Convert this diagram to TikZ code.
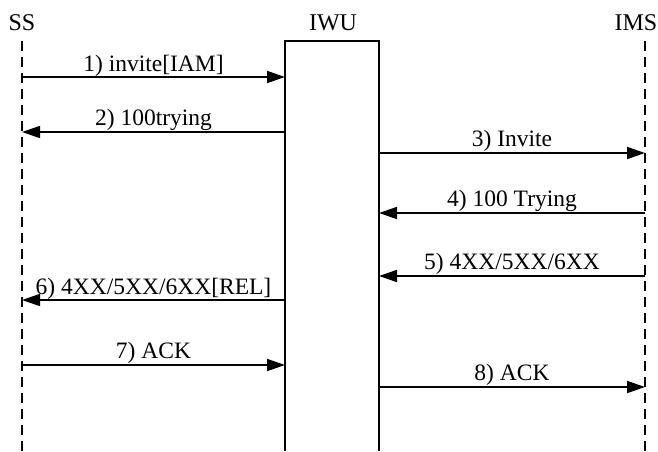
\documentclass[tikz,border=0pt]{standalone}
\usepackage{fontspec}
\setmainfont{Liberation Serif}
\usetikzlibrary{arrows.meta}
\begin{document}
\begin{tikzpicture}[x=1pt,y=-1pt,
  lifeline/.style={line width=1.7pt,dash pattern=on 10pt off 6pt},
  boxline/.style={line width=1.7pt},
  msg/.style={line width=1.7pt,-{Triangle[length=18pt,width=12pt]}},
  head/.style={font=\fontsize{24}{28}\selectfont,inner sep=0pt},
  msglabel/.style={font=\fontsize{23.5}{28}\selectfont,inner sep=0pt,anchor=base}]
\useasboundingbox (0,0) rectangle (658,451);
% participant headings
\node[head] (ssH)  at (22,23)  {SS};
\node[head] (iwuH) at (333,23) {IWU};
\node[head] (imsH) at (636,23) {IMS};
% lifelines and the IWU box (open at the bottom)
\coordinate (ssTop) at (22,41);   \coordinate (ssBot) at (22,451);
\coordinate (imsTop) at (645,41); \coordinate (imsBot) at (645,451);
\coordinate (iwuBL) at (285,451); \coordinate (iwuTL) at (285,41);
\coordinate (iwuTR) at (379,41);  \coordinate (iwuBR) at (379,451);
\draw[lifeline] (ssTop) -- (ssBot);
\draw[lifeline] (imsTop) -- (imsBot);
\draw[boxline] (iwuBL) -- (iwuTL) -- (iwuTR) -- (iwuBR);
% message end points
\coordinate (s1) at (22,77);   \coordinate (w1) at (285,77);
\coordinate (s2) at (22,132);  \coordinate (w2) at (285,132);
\coordinate (w3) at (379,153); \coordinate (i3) at (645,153);
\coordinate (w4) at (379,213); \coordinate (i4) at (645,213);
\coordinate (w5) at (379,276); \coordinate (i5) at (645,276);
\coordinate (s6) at (22,300);  \coordinate (w6) at (285,300);
\coordinate (s7) at (22,365);  \coordinate (w7) at (285,365);
\coordinate (w8) at (379,387); \coordinate (i8) at (645,387);
% messages
\draw[msg] (s1) -- (w1) node[msglabel,pos=0.5,yshift=6pt] (l1) {1) invite[IAM]};
\draw[msg] (w2) -- (s2) node[msglabel,pos=0.5,yshift=6.5pt] (l2) {2) 100trying};
\draw[msg] (w3) -- (i3) node[msglabel,pos=0.5,yshift=6.5pt] (l3) {3) Invite};
\draw[msg] (i4) -- (w4) node[msglabel,pos=0.5,yshift=6.5pt] (l4) {4) 100 Trying};
\draw[msg] (i5) -- (w5) node[msglabel,pos=0.5,yshift=6.5pt] (l5) {5) 4XX/5XX/6XX};
\draw[msg] (w6) -- (s6) node[msglabel,pos=0.5,yshift=6pt] (l6) {6) 4XX/5XX/6XX[REL]};
\draw[msg] (s7) -- (w7) node[msglabel,pos=0.5,yshift=6.5pt] (l7) {7) ACK};
\draw[msg] (w8) -- (i8) node[msglabel,pos=0.5,yshift=6.5pt] (l8) {8) ACK};
\end{tikzpicture}
\end{document}
